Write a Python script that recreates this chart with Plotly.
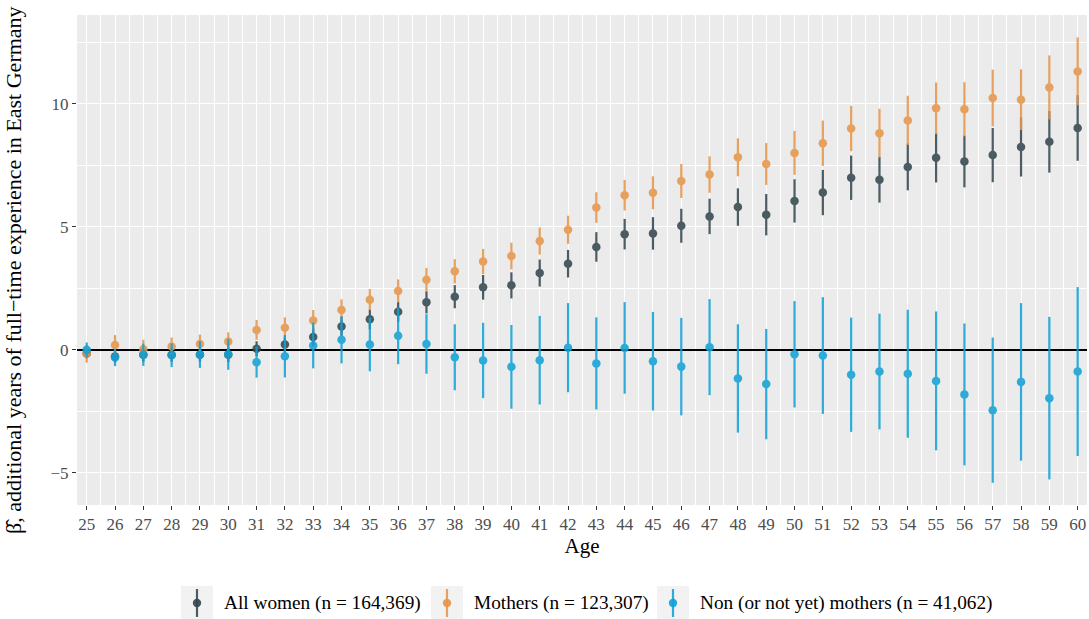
import plotly.graph_objects as go

ages = list(range(25, 61))

all_women = [-0.15, -0.27, -0.20, -0.20, -0.20, -0.20, 0.05, 0.22, 0.52, 0.95,
             1.24, 1.55, 1.93, 2.16, 2.54, 2.62, 3.12, 3.50, 4.18, 4.70,
             4.73, 5.04, 5.42, 5.80, 5.49, 6.05, 6.39, 6.99, 6.91, 7.43,
             7.80, 7.65, 7.91, 8.24, 8.45, 9.01]
all_women_err = [0.20, 0.25, 0.28, 0.28, 0.28, 0.30, 0.30, 0.32, 0.35, 0.38,
                 0.40, 0.40, 0.45, 0.47, 0.50, 0.53, 0.55, 0.56, 0.60, 0.62,
                 0.66, 0.69, 0.72, 0.76, 0.84, 0.88, 0.92, 0.90, 0.93, 0.95,
                 1.00, 1.05, 1.10, 1.20, 1.25, 1.33]

mothers = [-0.16, 0.20, 0.03, 0.14, 0.24, 0.34, 0.81, 0.90, 1.19, 1.62,
           2.04, 2.39, 2.85, 3.19, 3.59, 3.81, 4.42, 4.88, 5.78, 6.28,
           6.38, 6.86, 7.12, 7.82, 7.55, 8.00, 8.39, 8.99, 8.80, 9.32,
           9.81, 9.77, 10.23, 10.16, 10.66, 11.31]
mothers_err = [0.36, 0.40, 0.38, 0.36, 0.38, 0.37, 0.40, 0.42, 0.43, 0.43,
               0.43, 0.47, 0.48, 0.49, 0.51, 0.54, 0.55, 0.57, 0.62, 0.62,
               0.67, 0.69, 0.74, 0.77, 0.85, 0.89, 0.92, 0.92, 0.99, 1.00,
               1.05, 1.10, 1.15, 1.23, 1.30, 1.38]

non_mothers = [0.00, -0.31, -0.20, -0.22, -0.19, -0.18, -0.50, -0.26, 0.18, 0.41,
               0.22, 0.57, 0.24, -0.30, -0.43, -0.69, -0.42, 0.09, -0.55, 0.08,
               -0.46, -0.68, 0.11, -1.16, -1.39, -0.18, -0.23, -1.01, -0.88, -0.97,
               -1.26, -1.81, -2.45, -1.30, -1.96, -0.88]
non_mothers_err = [0.30, 0.35, 0.45, 0.48, 0.54, 0.63, 0.63, 0.86, 0.93, 0.96,
                   1.09, 1.15, 1.21, 1.34, 1.53, 1.70, 1.80, 1.81, 1.87, 1.86,
                   2.00, 1.98, 1.95, 2.20, 2.24, 2.16, 2.37, 2.32, 2.35, 2.60,
                   2.82, 2.88, 2.95, 3.20, 3.30, 3.43]

series_names = ["All women (n = 164,369)", "Mothers (n = 123,307)",
                "Non (or not yet) mothers (n = 41,062)"]
colors = ["#34474F", "#E6964B", "#12A2D6"]

FONT = "Liberation Serif"
W, H = 1089, 619
ML, MR, MT, MB = 77, 2, 15, 114
PW, PH = W - ML - MR, H - MT - MB

fig = go.Figure()
for name, vals, errs, col in zip(series_names, [all_women, mothers, non_mothers],
                                 [all_women_err, mothers_err, non_mothers_err], colors):
    fig.add_trace(go.Scatter(
        x=ages, y=vals, mode="markers", name=name, showlegend=False,
        marker=dict(color=col, size=8.5, line=dict(width=0)),
        error_y=dict(type="data", array=errs, visible=True, color=col,
                     thickness=2.2, width=0),
        opacity=0.88,
    ))

def px2paper(px, py):
    return (px - ML) / PW, (H - MB - py) / PH

legend_items = [(197, 222), (447, 472), (673, 698)]
shapes = []
annotations = []
for (kx, tx), col, name in zip(legend_items, colors, series_names):
    x0, y0 = px2paper(kx - 16, 620)
    x1, y1 = px2paper(kx + 16, 586)
    shapes.append(dict(type="rect", xref="paper", yref="paper", x0=x0, x1=x1, y0=y0, y1=y1,
                       fillcolor="#F2F2F2", line=dict(width=0), layer="above"))
    lx, ly0 = px2paper(kx, 617)
    _, ly1 = px2paper(kx, 589)
    shapes.append(dict(type="line", xref="paper", yref="paper", x0=lx, x1=lx, y0=ly0, y1=ly1,
                       line=dict(color=col, width=2.2), opacity=0.88, layer="above"))
    cx0, cy0 = px2paper(kx - 4.2, 607.2)
    cx1, cy1 = px2paper(kx + 4.2, 598.8)
    shapes.append(dict(type="circle", xref="paper", yref="paper", x0=cx0, x1=cx1, y0=cy0, y1=cy1,
                       fillcolor=col, line=dict(width=0), opacity=0.92, layer="above"))
    ax, ay = px2paper(tx, 603)
    annotations.append(dict(text=name, xref="paper", yref="paper", x=ax, y=ay,
                            xanchor="left", yanchor="middle", showarrow=False,
                            font=dict(family=FONT, size=19.3, color="black")))

# y-axis title as rotated annotation
tx_, ty_ = px2paper(13, 270)
annotations.append(dict(text="β\u0302, additional years of full\u2212time experience in East Germany",
                        xref="paper", yref="paper", x=tx_, y=ty_, textangle=-90,
                        xanchor="center", yanchor="middle", showarrow=False,
                        font=dict(family=FONT, size=22, color="black")))

fig.update_layout(
    width=W, height=H,
    margin=dict(l=ML, r=MR, t=MT, b=MB),
    paper_bgcolor="white", plot_bgcolor="#EBEBEB",
    font=dict(family=FONT, color="black"),
    shapes=shapes, annotations=annotations,
    showlegend=False,
    xaxis=dict(
        range=[24.657, 60.33], tickmode="linear", tick0=25, dtick=1,
        showgrid=True, gridcolor="white", gridwidth=1.1,
        minor=dict(dtick=0.5, tick0=24.5, showgrid=True, gridcolor="white", gridwidth=0.5, ticks=""),
        ticks="outside", ticklen=4, tickwidth=1.1, tickcolor="#333333",
        tickfont=dict(family=FONT, size=17, color="#4D4D4D"),
        title=dict(text="Age", font=dict(family=FONT, size=21, color="black"), standoff=3),
        zeroline=False, showline=False,
    ),
    yaxis=dict(
        range=[-6.3, 13.6], tickmode="array", tickvals=[-5, 0, 5, 10],
        showgrid=True, gridcolor="white", gridwidth=1.1,
        minor=dict(tickmode="array", tickvals=[-2.5, 2.5, 7.5, 12.5], showgrid=True,
                   gridcolor="white", gridwidth=0.5, ticks=""),
        ticks="outside", ticklen=4, tickwidth=1.1, tickcolor="#333333",
        tickfont=dict(family=FONT, size=17, color="#4D4D4D"),
        zeroline=True, zerolinecolor="black", zerolinewidth=1.6,
        showline=False,
    ),
)

fig.write_html("out.html")
